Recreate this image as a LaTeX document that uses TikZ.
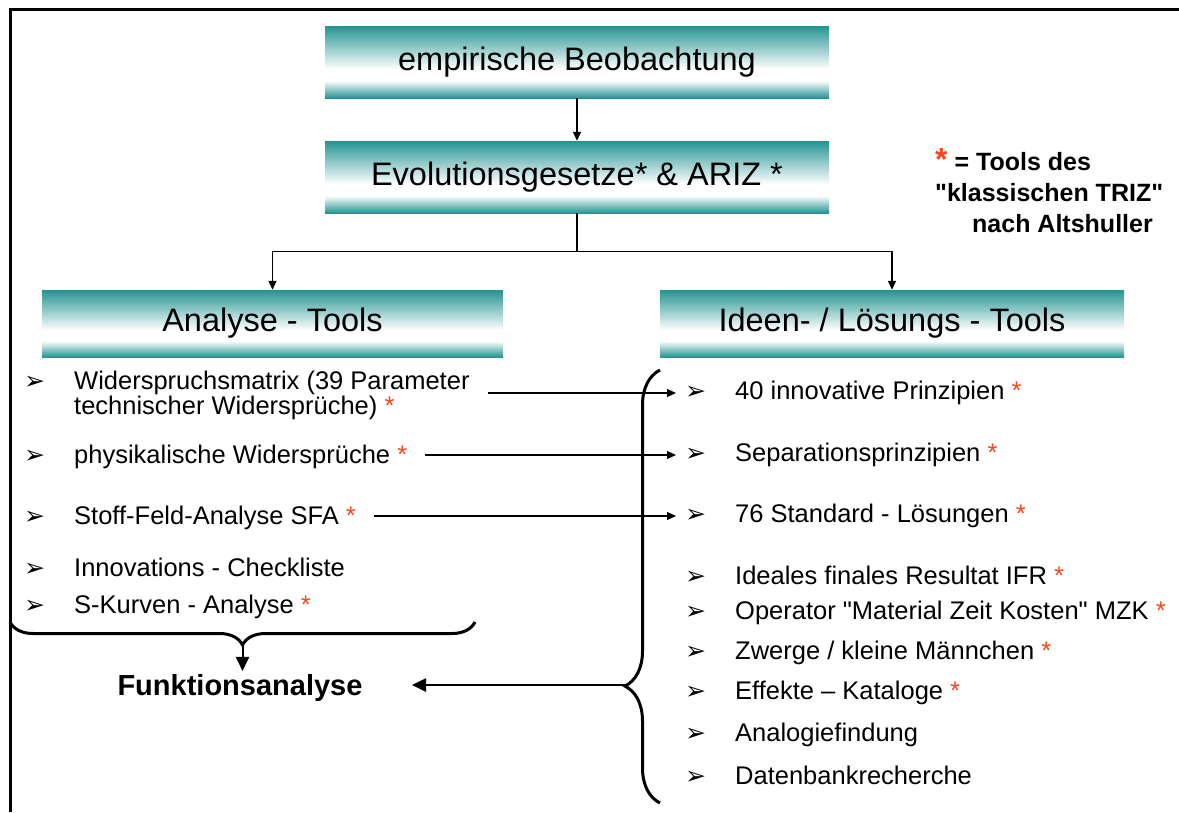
\documentclass[tikz,border=0pt]{standalone}
\usepackage{fontspec}
\setmainfont{Liberation Sans}
\newfontfamily\dingfont{DejaVu Sans}
\newfontfamily\quotefont{Liberation Sans}
\usetikzlibrary{arrows.meta,decorations.pathreplacing}

\definecolor{boxteal}{RGB}{36,148,146}
\definecolor{starred}{RGB}{245,70,30}
\pgfdeclareverticalshading{toolshade}{100bp}{color(0bp)=(boxteal); color(25bp)=(boxteal); color(37bp)=(white); color(45bp)=(white); color(75bp)=(boxteal); color(100bp)=(boxteal)}

\newcommand\redstar{\textcolor{starred}{*}}
\newcommand\qq{{\quotefont\symbol{34}}}
\newcommand\itm{\makebox[50pt][l]{\dingfont\fontsize{25}{25}\selectfont\char"27A2}}

\tikzset{
  toolbox/.style={shade, shading=toolshade, inner sep=0pt, minimum height=72pt,
    font=\fontsize{32.5}{36}\selectfont},
  listitem/.style={anchor=west, inner sep=0pt, align=left, font=\fontsize{25.5}{25}\selectfont},
  thin arrow/.style={line width=1.2pt, -{Triangle[length=9pt,width=8pt]}},
  thick arrow/.style={line width=2.6pt, -{Triangle[length=14pt,width=13pt]}},
  curly/.style={line width=3pt, decorate, decoration={brace, amplitude=#1}},
}

\begin{document}
\begin{tikzpicture}[x=1pt,y=-1pt]
\useasboundingbox (0,0) rectangle (1179,812);
% frame
\draw[line width=3pt] (10,812) -- (10,9) -- (1179,9);

% boxes
\node[toolbox, minimum width=504pt] (emp) at (577,62) {empirische Beobachtung};
\node[toolbox, minimum width=504pt] (evo) at (577,177) {Evolutionsgesetze* \& ARIZ *};
\node[toolbox, minimum width=461pt, minimum height=67pt] (ana) at (272.5,323.5) {Analyse - Tools};
\node[toolbox, minimum width=464pt, minimum height=67pt] (ide) at (892,323.5) {Ideen- / Lösungs - Tools};

\draw[thin arrow] (emp) -- (evo);
\draw[thin arrow] (evo.south) -- ++(0,38) -| (ana.north);
\draw[thin arrow] (evo.south) -- ++(0,38) -| (ide.north);

% legend
\node[anchor=north west, align=left, inner sep=0pt, font=\bfseries\fontsize{25}{31}\selectfont]
  (legend) at (935,148) {{\fontsize{32}{31}\selectfont\redstar} = Tools des\\\qq klassischen TRIZ\qq\\\hspace*{37pt}nach Altshuller};

% analyse tools
\node[listitem] (l1) at (24,395) {\itm Widerspruchsmatrix (39 Parameter\\\hspace*{50pt}technischer Widersprüche) \redstar};
\node[listitem] (l2) at (24,457) {\itm physikalische Widersprüche \redstar};
\node[listitem] (l3) at (24,518) {\itm Stoff-Feld-Analyse SFA \redstar};
\node[listitem] (l4) at (24,567) {\itm Innovations - Checkliste};
\node[listitem] (l5) at (24,607) {\itm S-Kurven - Analyse \redstar};

% ideen / loesungs tools
\node[listitem] (r1) at (685,393) {\itm 40 innovative Prinzipien \redstar};
\node[listitem] (r2) at (685,455) {\itm Separationsprinzipien \redstar};
\node[listitem] (r3) at (685,516) {\itm 76 Standard - Lösungen \redstar};
\node[listitem] (r4) at (685,575) {\itm Ideales finales Resultat IFR \redstar};
\node[listitem] (r5) at (685,613) {\itm Operator \qq Material Zeit Kosten\qq{} MZK \redstar};
\node[listitem] (r6) at (685,653) {\itm Zwerge / kleine Männchen \redstar};
\node[listitem] (r7) at (685,693) {\itm Effekte – Kataloge \redstar};
\node[listitem] (r8) at (685,735) {\itm Analogiefindung};
\node[listitem] (r9) at (685,775) {\itm Datenbankrecherche};

\draw[thin arrow, shorten <=18pt, shorten >=9pt] (r1.west -| l1.east) -- (r1.west);
\draw[thin arrow, shorten <=18pt, shorten >=9pt] (r2.west -| l2.east) -- (r2.west);
\draw[thin arrow, shorten <=18pt, shorten >=9pt] (r3.west -| l3.east) -- (r3.west);

% braces
\node[font=\bfseries\fontsize{29}{32}\selectfont] (funk) at (240,688) {Funktionsanalyse};

\coordinate (rbrace-bot) at (660,803);
\coordinate (rbrace-top) at (660,370);
\coordinate (rbrace-tip) at (625,685);
\draw[curly=35pt, decoration={aspect=0.27}] (rbrace-bot) -- (rbrace-top);
\draw[thick arrow, shorten >=46pt] (rbrace-tip) -- (rbrace-tip -| funk.east);

\coordinate (lbrace-r) at (475,622);
\coordinate (lbrace-l) at (10,622);
\coordinate (lbrace-tip) at (242.5,645);
\draw[curly=23pt] (lbrace-r) -- (lbrace-l);
\draw[thick arrow, line width=2pt] (lbrace-tip) -- (lbrace-tip |- funk.north);
\end{tikzpicture}
\end{document}
